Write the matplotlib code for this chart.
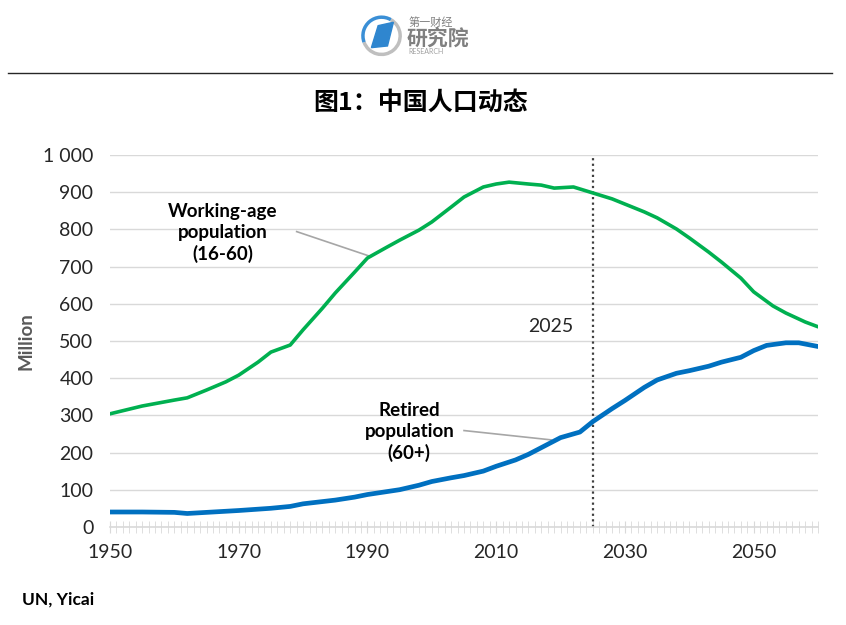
import matplotlib.pyplot as plt
from matplotlib.patches import Polygon, Arc
import numpy as np

plt.rcParams['font.family'] = ['Lato', 'DejaVu Sans']

# working-age population (16-60), million
years_w = [1950, 1955, 1960, 1962, 1965, 1968, 1970, 1973, 1975, 1978, 1980, 1983, 1985, 1988,
           1990, 1993, 1995, 1998, 2000, 2003, 2005, 2008, 2010, 2012, 2015, 2017, 2019, 2022,
           2025, 2028, 2030, 2033, 2035, 2038, 2040, 2043, 2045, 2048, 2050, 2053, 2055, 2058, 2060]
working = [304, 325, 341, 347, 368, 390, 408, 443, 470, 489, 530, 588, 629, 685,
           723, 752, 771, 798, 820, 860, 887, 914, 922, 927, 922, 919, 911, 914,
           898, 882, 868, 847, 831, 801, 777, 739, 712, 669, 632, 594, 575, 551, 538]

# retired population (60+), million
years_r = [1950, 1955, 1960, 1962, 1965, 1970, 1975, 1978, 1980, 1985, 1988, 1990, 1995, 1998,
           2000, 2003, 2005, 2008, 2010, 2013, 2015, 2018, 2020, 2022, 2023, 2025, 2028, 2030,
           2033, 2035, 2038, 2040, 2043, 2045, 2048, 2050, 2052, 2055, 2057, 2060]
retired = [40, 40, 39, 36, 39, 44, 50, 55, 62, 72, 80, 87, 100, 112,
           122, 132, 138, 150, 163, 180, 195, 222, 240, 250, 255, 283, 318, 340,
           375, 395, 413, 420, 432, 443, 456, 474, 488, 495, 495, 485]

yticks = [0, 100, 200, 300, 400, 500, 600, 700, 800, 900, 1000]
ytick_labels = ['0', '100', '200', '300', '400', '500', '600', '700', '800', '900', '1 000']
xticks = [1950, 1970, 1990, 2010, 2030, 2050]

fig = plt.figure(figsize=(8.46, 6.25), dpi=100)
ax = fig.add_axes([0.130, 0.157, 0.837, 0.595])

ax.plot(years_w, working, color='#00b050', lw=2.6, solid_capstyle='round', zorder=3)
ax.plot(years_r, retired, color='#0070c0', lw=3.4, solid_capstyle='round', zorder=3)
ax.axvline(2025, color='#404040', lw=1.6, ls=(0, (1, 1.5)), zorder=2)

ax.set_xlim(1950, 2060)
ax.set_ylim(0, 1000)
ax.set_yticks(yticks)
ax.set_yticklabels(ytick_labels)
ax.set_xticks(xticks)
ax.set_xticks(np.arange(1950, 2061, 1), minor=True)
ax.grid(axis='y', color='#d9d9d9', lw=1)
ax.set_axisbelow(True)
for s in ['top', 'right', 'left']:
    ax.spines[s].set_visible(False)
ax.spines['bottom'].set_color('#d9d9d9')
ax.spines['bottom'].set_linewidth(1.2)
ax.tick_params(axis='y', length=0, labelsize=14, pad=12, labelcolor='#262626')
ax.tick_params(axis='x', which='both', direction='inout', length=9, color='#d9d9d9',
               labelsize=14, pad=8, labelcolor='#262626')
ax.set_ylabel('Million', fontsize=13.5, fontweight='bold', color='#595959', labelpad=6)

ax.text(2018.5, 540, '2025', fontsize=14, ha='center', va='center', color='#262626')

ax.text(1967.5, 790, 'Working-age\npopulation\n(16-60)', fontsize=13.5, fontweight='bold',
        ha='center', va='center', linespacing=1.25)
ax.plot([1979, 1990.5], [794, 727], color='#a6a6a6', lw=1.2)
ax.text(1996.5, 255, 'Retired\npopulation\n(60+)', fontsize=13.5, fontweight='bold',
        ha='center', va='center', linespacing=1.25)
ax.plot([2005, 2018.5], [259, 234], color='#a6a6a6', lw=1.2)

fig.text(0.026, 0.040, 'UN, Yicai', fontsize=12.5, fontweight='bold', ha='left', va='center')

fig.text(0.497, 0.835, '图1：中国人口动态', fontsize=18, ha='center', va='center',
         fontweight='bold', family=['Noto Sans CJK SC', 'DejaVu Sans'])
fig.add_artist(plt.Line2D([0.01, 0.983], [0.883, 0.883], color='#262626', lw=1))

# logo
lax = fig.add_axes([0.425, 0.885, 0.14, 0.11])
lax.set_xlim(0, 140)
lax.set_ylim(0, 68)
lax.set_aspect('equal')
lax.axis('off')
lax.add_patch(Arc((26, 36), 44, 44, theta1=200, theta2=60, color='#bfbfbf', lw=2.5))
lax.add_patch(Arc((26, 36), 44, 44, theta1=60, theta2=200, color='#3a8fd6', lw=2.5))
lax.add_patch(Polygon([[14, 22], [22, 48], [40, 52], [33, 24]], color='#2f86cf'))
lax.text(58, 52, '第一财经', fontsize=8, color='#808080', va='center',
         family=['Noto Sans CJK SC', 'DejaVu Sans'])
lax.text(56, 33, '研究院', fontsize=15, color='#808080', va='center', fontweight='bold',
         family=['Noto Sans CJK SC', 'DejaVu Sans'])
lax.text(58, 17, 'RESEARCH', fontsize=5, color='#a0a0a0', va='center')

fig.savefig('out.png', dpi=100)
